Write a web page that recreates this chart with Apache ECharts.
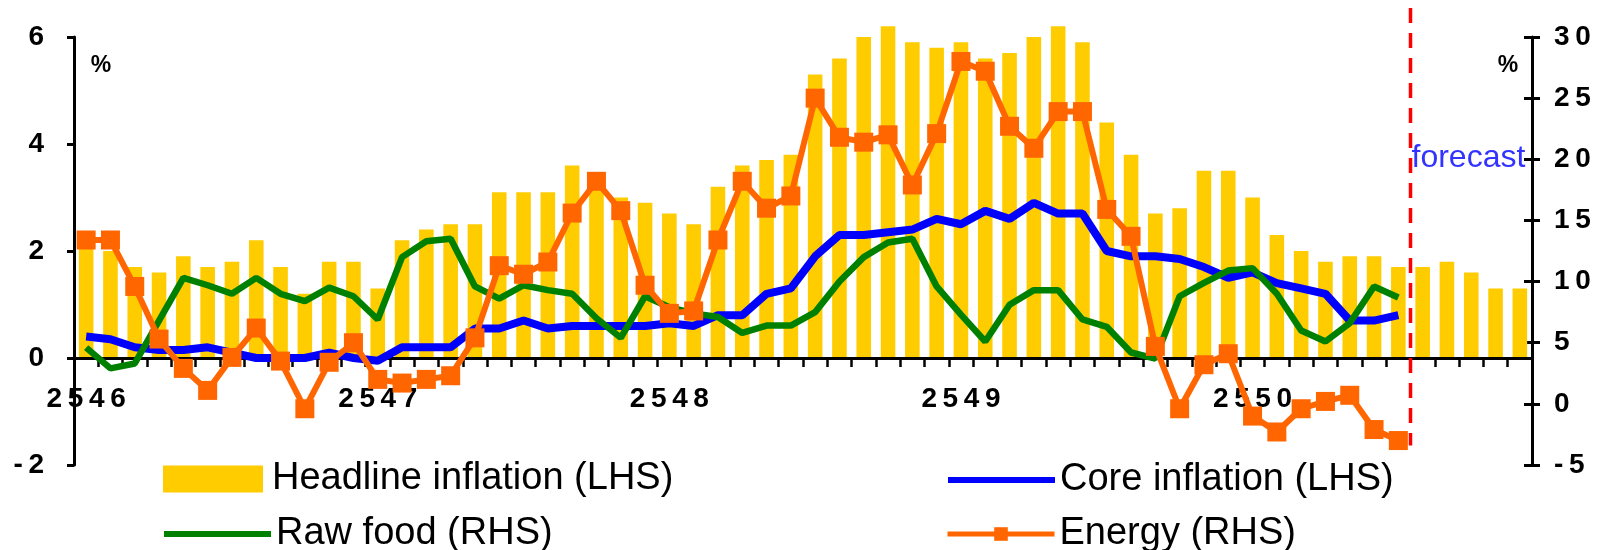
<!DOCTYPE html>
<html>
<head>
<meta charset="utf-8">
<title>Inflation</title>
<script src="https://cdn.jsdelivr.net/npm/echarts@6/dist/echarts.min.js"></script>
<style>
  html, body { margin: 0; padding: 0; background: #fff; }
  #chart { width: 1601px; height: 550px; }
</style>
</head>
<body>
<div id="chart"></div>
<script>
// years shown on the axis, one label every 12 months
var years = ['2546', '2547', '2548', '2549', '2550'];
var categories = [];
years.forEach(function (y) {
  for (var m = 1; m <= 12; m++) categories.push(y + '/' + m);
});

// headline inflation, % (LHS) - last 5 months are forecast
var headline = [2.2, 2.0, 1.7, 1.6, 1.9, 1.7, 1.8, 2.2, 1.7, 1.2, 1.8, 1.8,
                1.3, 2.2, 2.4, 2.5, 2.5, 3.1, 3.1, 3.1, 3.6, 3.3, 3.0, 2.9,
                2.7, 2.5, 3.2, 3.6, 3.7, 3.8, 5.3, 5.6, 6.0, 6.2, 5.9, 5.8,
                5.9, 5.6, 5.7, 6.0, 6.2, 5.9, 4.4, 3.8, 2.7, 2.8, 3.5, 3.5,
                3.0, 2.3, 2.0, 1.8, 1.9, 1.9, 1.7, 1.7, 1.8, 1.6, 1.3, 1.3];

// core inflation, % (LHS)
var core = [0.4, 0.35, 0.2, 0.15, 0.15, 0.2, 0.1, 0.0, 0.0, 0.0, 0.1, 0.0,
            -0.05, 0.2, 0.2, 0.2, 0.55, 0.55, 0.7, 0.55, 0.6, 0.6, 0.6, 0.6,
            0.65, 0.6, 0.8, 0.8, 1.2, 1.3, 1.9, 2.3, 2.3, 2.35, 2.4, 2.6,
            2.5, 2.75, 2.6, 2.9, 2.7, 2.7, 2.0, 1.9, 1.9, 1.85, 1.7, 1.5,
            1.6, 1.4, 1.3, 1.2, 0.7, 0.7, 0.8];

// raw food, % (RHS)
var rawFood = [4.6, 2.9, 3.3, 6.8, 10.3, 9.7, 9.0, 10.3, 9.0, 8.4, 9.5, 8.8,
               6.9, 12.0, 13.3, 13.5, 9.6, 8.6, 9.7, 9.3, 9.0, 7.0, 5.4, 8.8,
               7.9, 7.4, 7.1, 5.8, 6.4, 6.4, 7.5, 10.0, 12.0, 13.2, 13.5, 9.6,
               7.3, 5.1, 8.1, 9.3, 9.3, 6.9, 6.3, 4.2, 3.7, 8.8, 9.9, 10.9,
               11.1, 9.0, 6.0, 5.1, 6.6, 9.6, 8.7];

// energy, % (RHS)
var energy = [13.4, 13.4, 9.6, 5.3, 2.9, 1.1, 3.8, 6.2, 3.5, -0.4, 3.4, 5.0,
              2.0, 1.7, 2.0, 2.3, 5.4, 11.3, 10.6, 11.6, 15.6, 18.2, 15.8, 9.7,
              7.4, 7.6, 13.4, 18.2, 16.0, 17.0, 25.0, 21.8, 21.4, 22.0, 17.9, 22.1,
              28.0, 27.2, 22.7, 20.9, 23.9, 23.9, 15.9, 13.7, 4.7, -0.4, 3.2, 4.1,
              -1.0, -2.3, -0.4, 0.2, 0.7, -2.1, -3.0];

var lastActual = 54; // forecast starts after this month

var leftMin = -2, leftMax = 6;
var gridTop = 37, gridBottom = 85, H = 550;

var FONT = "'Liberation Sans', Arial, sans-serif";

function spaced(v) {
  return String(v).split('').join('\u2009');
}

var chart = echarts.init(document.getElementById('chart'));

function lineLegend(name, left, top, color, width, showMarker) {
  return {
    data: [name],
    left: left, top: top,
    padding: 0,
    itemWidth: 107, itemHeight: 17,
    selectedMode: false,
    lineStyle: { width: width, color: color },
    itemStyle: showMarker ? { color: color } : { opacity: 0 },
    textStyle: { fontFamily: FONT, fontSize: 38, color: '#000' }
  };
}

// move the category axis up to the zero of the left axis
var plotH = H - gridTop - gridBottom;
var zeroOffset = -plotH * (0 - leftMin) / (leftMax - leftMin);

chart.setOption({
  animation: false,
  grid: { left: 74, right: 69, top: gridTop, bottom: gridBottom },
  legend: [
    {
      data: [{ name: 'Headline inflation (LHS)', icon: 'rect' }],
      left: 163, top: 460, padding: 0,
      itemWidth: 100, itemHeight: 27,
      selectedMode: false,
      textStyle: { fontFamily: FONT, fontSize: 38, color: '#000', padding: [0, 0, 0, 4] }
    },
    lineLegend('Core inflation (LHS)', 945, 461, '#0000ff', 6, false),
    lineLegend('Raw food (RHS)', 161, 515, '#008000', 6, false),
    lineLegend('Energy (RHS)', 945, 515, '#ff6600', 5, true)
  ],
  xAxis: {
    type: 'category',
    data: categories,
    boundaryGap: true,
    position: 'bottom',
    offset: zeroOffset,
    z: 3,
    axisLine: { show: true, onZero: false, lineStyle: { color: '#000', width: 3 } },
    axisTick: { show: true, alignWithLabel: false, interval: 0, length: 9, lineStyle: { color: '#000', width: 2.5 } },
    axisLabel: {
      interval: function (i) { return i % 12 === 0; },
      formatter: function (v) { return spaced(v.split('/')[0]); },
      margin: 27,
      fontFamily: FONT, fontSize: 28, fontWeight: 'bold', color: '#000'
    },
    splitLine: { show: false }
  },
  yAxis: [
    {
      type: 'value', position: 'left',
      min: leftMin, max: leftMax, interval: 2,
      axisLine: { show: true, lineStyle: { color: '#000', width: 3 } },
      axisTick: { show: true, length: 7, lineStyle: { color: '#000', width: 3 } },
      axisLabel: { formatter: spaced, margin: 30, fontFamily: FONT, fontSize: 28, fontWeight: 'bold', color: '#000' },
      splitLine: { show: false }
    },
    {
      type: 'value', position: 'right',
      min: -5, max: 30, interval: 5,
      axisLine: { show: true, lineStyle: { color: '#000', width: 3 } },
      axisTick: { show: true, length: 8, lineStyle: { color: '#000', width: 3 } },
      axisLabel: { formatter: spaced, margin: 22, fontFamily: FONT, fontSize: 28, fontWeight: 'bold', color: '#000' },
      splitLine: { show: false }
    },
    {
      // inner half of the right-hand ticks
      type: 'value', position: 'right', offset: 0,
      min: -5, max: 30, interval: 5,
      axisLine: { show: false },
      axisTick: { show: true, inside: true, length: 8, lineStyle: { color: '#000', width: 3 } },
      axisLabel: { show: false },
      splitLine: { show: false }
    }
  ],
  series: [
    {
      name: 'Headline inflation (LHS)',
      type: 'bar',
      data: headline,
      yAxisIndex: 0,
      z: 1,
      barWidth: '60%',
      clip: false,
      itemStyle: { color: '#ffcc00' }
    },
    {
      name: 'Core inflation (LHS)',
      type: 'line',
      data: core,
      yAxisIndex: 0,
      z: 4,
      symbol: 'none',
      lineStyle: { color: '#0000ff', width: 8 },
      itemStyle: { color: '#0000ff' }
    },
    {
      name: 'Raw food (RHS)',
      type: 'line',
      data: rawFood,
      yAxisIndex: 1,
      z: 4,
      symbol: 'none',
      lineStyle: { color: '#008000', width: 6.5 },
      itemStyle: { color: '#008000' }
    },
    {
      name: 'Energy (RHS)',
      type: 'line',
      data: energy,
      yAxisIndex: 1,
      z: 5,
      symbol: 'rect',
      symbolSize: 19,
      showAllSymbol: true,
      clip: false,
      lineStyle: { color: '#ff6600', width: 6 },
      itemStyle: { color: '#ff6600' }
    }
  ]
});

// forecast divider and % marks
var xA = chart.convertToPixel({ xAxisIndex: 0 }, lastActual);
var xB = chart.convertToPixel({ xAxisIndex: 0 }, lastActual + 1);
var xDiv = (xA + xB) / 2;
var yBottom = chart.convertToPixel({ yAxisIndex: 1 }, -3.4);
var yForecast = chart.convertToPixel({ yAxisIndex: 1 }, 20) - 1;

chart.setOption({
  graphic: [
    {
      type: 'line',
      shape: { x1: xDiv, y1: 8, x2: xDiv, y2: yBottom },
      style: { stroke: '#ff0000', lineWidth: 3.5, lineDash: [15, 10] },
      z: 10
    },
    {
      type: 'text', x: xDiv + 1, y: yForecast,
      style: { text: 'forecast', fill: '#3333ff', font: '32px ' + FONT, align: 'left', verticalAlign: 'middle' },
      z: 10
    },
    {
      type: 'text', x: 101, y: 66,
      style: { text: '%', fill: '#000', font: 'bold 23px ' + FONT, align: 'center', verticalAlign: 'middle' }
    },
    {
      type: 'text', x: 1508, y: 66,
      style: { text: '%', fill: '#000', font: 'bold 23px ' + FONT, align: 'center', verticalAlign: 'middle' }
    }
  ]
});
</script>
</body>
</html>
